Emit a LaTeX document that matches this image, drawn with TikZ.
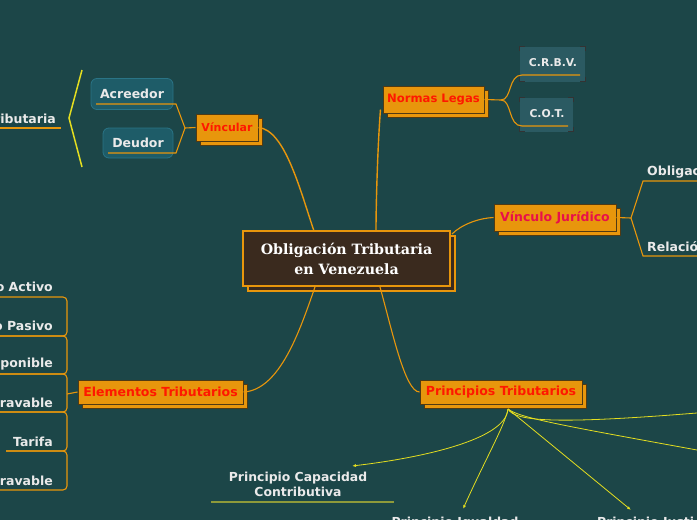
\documentclass[tikz,border=0pt]{standalone}
\usepackage{fontspec}
\setmainfont{DejaVu Sans}
\newfontfamily\titlefont{DejaVu Serif}
\usetikzlibrary{shadows,arrows.meta}
\definecolor{bgc}{HTML}{1C4648}
\definecolor{orangeA}{HTML}{E8960C}
\definecolor{boxedge}{HTML}{503A14}
\definecolor{redA}{HTML}{FF1800}
\definecolor{crim}{HTML}{E8104A}
\definecolor{brownA}{HTML}{3A2A1E}
\definecolor{txt}{HTML}{EAEAEA}
\definecolor{yel}{HTML}{E4DE20}
\definecolor{tealbox}{HTML}{1E5C68}
\definecolor{tealedge}{HTML}{2A7486}
\definecolor{tealbox2}{HTML}{2B5A62}
\definecolor{olive}{HTML}{8E9A3A}
\tikzset{
  obox/.style={draw=boxedge, fill=orangeA, line width=1pt, text=redA,
    font=\bfseries\fontsize{12.5}{14}\selectfont, inner sep=0pt,
    copy shadow={shadow xshift=4pt, shadow yshift=-4pt, draw=boxedge, fill=orangeA, line width=1pt}},
  lab/.style={text=txt, font=\bfseries\fontsize{12.5}{14}\selectfont, inner sep=0pt},
  conn/.style={draw=orangeA, line width=1.4pt},
  thin/.style={draw=orangeA, line width=1.1pt},
  yarr/.style={draw=yel, line width=0.8pt, -{Latex[length=4pt,width=3pt]}},
  tbox/.style={draw=tealedge, fill=tealbox, rounded corners=6pt, line width=0.8pt},
}
\begin{document}
\begin{tikzpicture}[x=1pt,y=-1pt]
\useasboundingbox (0,0) rectangle (697,520);
\fill[bgc] (0,0) rectangle (697,520);
\begin{scope}
\clip (0,0) rectangle (697,520);

\coordinate (cA) at (314,231);
\coordinate (cB) at (376,231);
\coordinate (cC) at (452,234);
\coordinate (cD) at (315,287);
\coordinate (cE) at (380,287);

% main nodes
\node[draw=orangeA, fill=brownA, line width=2.5pt, minimum width=207pt, minimum height=55pt, inner sep=0pt,
  copy shadow={shadow xshift=5pt, shadow yshift=-5pt, draw=orangeA, fill=brownA, line width=2.5pt},
  text=white, align=center, font=\titlefont\bfseries\fontsize{14.2}{20}\selectfont] (center) at (346.5,258.5)
  {Obligación Tributaria\\en Venezuela};

\node[obox, minimum width=62pt, minimum height=27pt, font=\bfseries\fontsize{11}{13}\selectfont] (vinc) at (227,127.5) {Víncular};
\node[obox, minimum width=101pt, minimum height=27pt, font=\bfseries\fontsize{11.6}{13}\selectfont] (norm) at (433.5,99.5) {Normas Legas};
\node[obox, minimum width=122pt, minimum height=27pt, text=crim] (vjur) at (555,217.5) {Vínculo Jurídico};
\node[obox, minimum width=165pt, minimum height=24pt] (elem) at (160.5,392) {Elementos Tributarios};
\node[obox, minimum width=162pt, minimum height=24pt] (prin) at (501,392) {Principios Tributarios};

\draw[conn] (vinc.east) .. controls (285,130) and (300,190) .. (cA);
\draw[conn] (norm.south west) ++(-2,-4) coordinate (nA) .. controls (378,140) and (376,200) .. (cB);
\draw[thin] (vjur.west) .. controls (480,218) and (462,224) .. (cC);
\draw[thin] (elem.east) .. controls (280,390) and (300,330) .. (cD);
\draw[thin] (prin.west) .. controls (405,392) and (392,330) .. (cE);

% Vincular children
\node[tbox, minimum width=82pt, minimum height=31pt] (acrB) at (132,94) {};
\node[lab] (acr) at (132,94) {Acreedor};
\node[tbox, minimum width=70pt, minimum height=30pt] (deuB) at (138,143) {};
\node[lab] (deu) at (138,143) {Deudor};
\coordinate (vj) at (185,128);
\coordinate (acrU) at (96,104);
\coordinate (deuU) at (108,153);
\draw[thin] (vinc.west) -- (vj);
\draw[thin] (vj) -- (176,104) -- (acrU);
\draw[thin] (vj) -- (176,153) -- (deuU);

% left "ributaria" with yellow bracket
\node[lab, anchor=east] (trib) at (56,119) {ributaria};
\coordinate (tribU) at (0,128);
\draw[thin] (tribU) -- (61,128);
\coordinate (br1) at (82,70);
\coordinate (br2) at (69,118);
\coordinate (br3) at (82,167);
\draw[yel, line width=1.5pt] (br1) -- (br2) -- (br3);

% Normas children
\node[fill=tealbox2, minimum width=65pt, minimum height=35pt, inner sep=0pt] (crbvB) at (552.5,64) {};
\node[fill=tealbox2, minimum width=53pt, minimum height=34pt, inner sep=0pt] (cotB) at (546.5,114.5) {};
\foreach \b in {crbvB,cotB}{
  \draw[black!80, line width=0.9pt] ([yshift=-5pt]\b.north west) |- ([xshift=5pt]\b.north west);
  \draw[black!80, line width=0.9pt] ([yshift=-5pt]\b.north east) |- ([xshift=-5pt]\b.north east);
  \draw[black!80, line width=0.9pt] ([yshift=5pt]\b.south west) |- ([xshift=5pt]\b.south west);
  \draw[black!80, line width=0.9pt] ([yshift=5pt]\b.south east) |- ([xshift=-5pt]\b.south east);
}
\node[lab, font=\bfseries\fontsize{10.8}{12}\selectfont] (crbv) at (553,63) {C.R.B.V.};
\node[lab, font=\bfseries\fontsize{10.8}{12}\selectfont] (cot) at (547,114) {C.O.T.};
\coordinate (nj) at (501,100);
\draw[thin] (norm.east) -- (nj);
\draw[thin] (nj) .. controls (512,100) and (508,75) .. (522,75) -- (580,75);
\draw[thin] (nj) .. controls (512,100) and (508,126) .. (522,126) -- (568,126);

% Vinculo Juridico children
\coordinate (vjj) at (631,218);
\draw[thin] (vjur.east) -- (vjj);
\draw[thin] (vjj) -- (643,181) -- (697,181);
\draw[thin] (vjj) -- (643,256) -- (697,256);
\node[lab, anchor=west] (obl) at (647,172) {Obligac};
\node[lab, anchor=west] (rel) at (647,247) {Relació};

% Elementos children
\node[lab, anchor=east] (e1) at (53,287) {o Activo};
\node[lab, anchor=east] (e2) at (53,326) {o Pasivo};
\node[lab, anchor=east] (e3) at (53,364) {ponible};
\node[lab, anchor=east] (e4) at (53,403) {ravable};
\node[lab, anchor=east] (e5) at (53,442) {Tarifa};
\node[lab, anchor=east] (e6) at (53,481) {ravable};
\draw[thin] (elem.west) -- (67,394);
\foreach \ya/\yb/\xa/\xb in {297/336/0/0, 336/374/0/0, 374/412/0/0, 412/451/0/6, 451/490/6/0}{
  \draw[thin, rounded corners=4pt] (\xa,\ya) -- (67,\ya) -- (67,\yb) -- (\xb,\yb);
}

% Principios children
\coordinate (ps) at (508,409);
\coordinate (t1) at (352,466);
\coordinate (t2) at (463,509);
\coordinate (t3) at (631,510);
\coordinate (t4) at (697,413);
\coordinate (t5) at (697,450);
\draw[yarr] (ps) .. controls (506,440) and (420,458) .. (t1);
\draw[yarr] (ps) .. controls (505,425) and (485,460) .. (t2);
\draw[yarr] (ps) -- (t3);
\draw[draw=yel, line width=0.8pt] (ps) .. controls (515,422) and (560,424) .. (t4);
\draw[draw=yel, line width=0.8pt] (ps) .. controls (520,418) and (560,425) .. (t5);

\node[lab, align=center, font=\bfseries\fontsize{12.4}{15}\selectfont] (pcc) at (298,484) {Principio Capacidad\\Contributiva};
\draw[olive, line width=2pt] (211,502) -- (394,502);
\node[lab, font=\bfseries\fontsize{12.4}{14}\selectfont] (pig) at (455,523) {Principio Igualdad};
\node[lab, anchor=west, font=\bfseries\fontsize{12.4}{14}\selectfont] (pju) at (597,523) {Principio Justi};
\end{scope}
\end{tikzpicture}
\end{document}
